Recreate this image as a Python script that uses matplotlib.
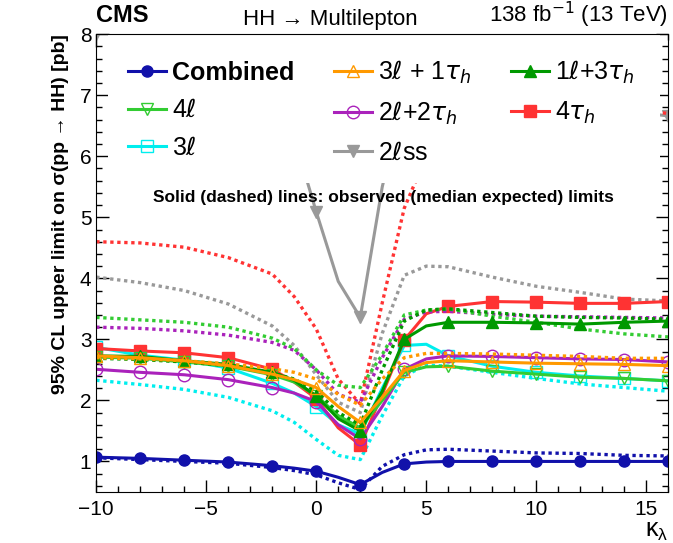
import matplotlib
matplotlib.use("Agg")
import matplotlib.pyplot as plt
from matplotlib.patches import Rectangle
from matplotlib.ticker import MultipleLocator

plt.rcParams['font.family'] = ['Liberation Sans', 'DejaVu Sans']
plt.rcParams['mathtext.fontset'] = 'dejavusans'

# kappa_lambda scan points
kl = [-10, -8, -6, -4, -2, -1, 0, 1, 2, 3, 4, 5, 6, 8, 10, 12, 14, 16]

comb_obs = [1.07, 1.05, 1.02, 0.99, 0.93, 0.89, 0.84, 0.74, 0.62, 0.82, 0.96, 0.99, 1.0, 1.0, 1.0, 1.0, 1.0, 1.0]
comb_exp = [1.06, 1.03, 1.00, 0.97, 0.90, 0.85, 0.78, 0.65, 0.54, 0.92, 1.11, 1.19, 1.20, 1.17, 1.14, 1.13, 1.10, 1.09]

l3t1_obs = [2.73, 2.70, 2.65, 2.57, 2.43, 2.34, 2.21, 1.90, 1.64, 2.05, 2.49, 2.62, 2.65, 2.63, 2.61, 2.60, 2.59, 2.57]
l3t1_exp = [2.70, 2.68, 2.65, 2.60, 2.52, 2.46, 2.35, 2.10, 1.92, 2.35, 2.70, 2.77, 2.77, 2.76, 2.74, 2.72, 2.69, 2.69]

l1t3_obs = [2.73, 2.72, 2.65, 2.59, 2.46, 2.33, 2.07, 1.70, 1.50, 2.15, 3.00, 3.22, 3.28, 3.28, 3.27, 3.25, 3.28, 3.30]
l1t3_exp = [2.69, 2.67, 2.63, 2.57, 2.45, 2.35, 2.15, 1.80, 1.60, 2.50, 3.30, 3.48, 3.50, 3.44, 3.38, 3.36, 3.35, 3.33]

l4_obs = [2.71, 2.69, 2.63, 2.56, 2.42, 2.30, 2.08, 1.75, 1.55, 2.00, 2.46, 2.55, 2.56, 2.48, 2.43, 2.38, 2.36, 2.32]
l4_exp = [3.36, 3.32, 3.28, 3.20, 3.02, 2.85, 2.50, 2.25, 2.21, 2.75, 3.40, 3.48, 3.50, 3.38, 3.28, 3.17, 3.09, 3.04]

l2t2_obs = [2.51, 2.46, 2.42, 2.34, 2.21, 2.12, 1.98, 1.60, 1.37, 1.90, 2.51, 2.68, 2.73, 2.72, 2.70, 2.68, 2.67, 2.63]
l2t2_exp = [3.20, 3.18, 3.14, 3.07, 2.95, 2.82, 2.50, 2.10, 1.97, 2.70, 3.33, 3.45, 3.46, 3.41, 3.38, 3.37, 3.36, 3.35]

t4_obs = [2.85, 2.81, 2.78, 2.70, 2.51, 2.30, 2.03, 1.55, 1.27, 2.10, 2.99, 3.42, 3.54, 3.62, 3.61, 3.59, 3.59, 3.62]
t4_exp = [4.60, 4.58, 4.51, 4.34, 4.07, 3.70, 3.17, 2.35, 1.94, 3.60, 5.15, 6.00, 6.60, 7.00, 7.00, 6.90, 6.80, 6.70]

l3_obs = [2.87, 2.74, 2.66, 2.53, 2.28, 2.12, 1.90, 1.60, 1.45, 2.20, 2.90, 2.92, 2.73, 2.56, 2.46, 2.40, 2.36, 2.32]
l3_exp = [2.33, 2.26, 2.18, 2.05, 1.83, 1.64, 1.36, 1.10, 1.03, 1.75, 2.40, 2.58, 2.56, 2.46, 2.36, 2.27, 2.21, 2.15]

ss_obs = [8.00, 8.70, 8.70, 8.40, 7.40, 6.30, 5.09, 3.95, 3.36, 5.50, 7.00, 7.30, 7.30, 7.10, 6.95, 6.85, 6.75, 6.66]
ss_exp = [4.02, 3.93, 3.80, 3.58, 3.22, 2.90, 2.42, 1.97, 1.80, 3.10, 4.05, 4.20, 4.19, 4.02, 3.87, 3.77, 3.66, 3.63]

mark_idx = [i for i, k in enumerate(kl) if k % 2 == 0]

fig = plt.figure(figsize=(6.73, 5.43), dpi=100)
ax = fig.add_axes([0.143, 0.094, 0.85, 0.843])

series = [
    ('Combined', comb_obs, comb_exp, '#1111aa', 'o', True),
    (r'3$\ell$ + 1$\tau_h$', l3t1_obs, l3t1_exp, '#ff9900', '^', False),
    (r'1$\ell$+3$\tau_h$', l1t3_obs, l1t3_exp, '#009900', '^', True),
    (r'4$\ell$', l4_obs, l4_exp, '#33cc33', 'v', False),
    (r'2$\ell$+2$\tau_h$', l2t2_obs, l2t2_exp, '#aa22bb', 'o', False),
    (r'4$\tau_h$', t4_obs, t4_exp, '#ff3333', 's', True),
    (r'3$\ell$', l3_obs, l3_exp, '#00eeee', 's', False),
    (r'2$\ell$ss', ss_obs, ss_exp, '#999999', 'v', True),
]

handles = {}
for name, obs, exp, col, mk, filled in reversed(series):
    ax.plot(kl, exp, color=col, lw=2.4, linestyle=(0, (1, 1.1)))
    h, = ax.plot(kl, obs, color=col, lw=2.2, marker=mk, markevery=mark_idx,
                 markersize=8 if mk != 'o' or filled else 9,
                 markerfacecolor=col if filled else 'none',
                 markeredgecolor=col, markeredgewidth=1.0)
    handles[name] = h

ax.set_xlim(-10, 16)
ax.set_ylim(0.5, 8)
ax.xaxis.set_major_locator(MultipleLocator(5))
ax.xaxis.set_minor_locator(MultipleLocator(1))
ax.yaxis.set_major_locator(MultipleLocator(1))
ax.yaxis.set_minor_locator(MultipleLocator(0.2))
ax.tick_params(which='both', direction='in', top=True, right=True, labelsize=15)
ax.tick_params(which='major', length=9, width=1)
ax.tick_params(which='minor', length=4.5, width=1)
ax.tick_params(axis='x', pad=6)

# white legend area covering the curves
ax.add_patch(Rectangle((0.02, 0.675), 0.965, 0.325, transform=ax.transAxes,
                       facecolor='white', edgecolor='none', zorder=2.4))

order = ['Combined', r'4$\ell$', r'3$\ell$',
         r'3$\ell$ + 1$\tau_h$', r'2$\ell$+2$\tau_h$', r'2$\ell$ss',
         r'1$\ell$+3$\tau_h$', r'4$\tau_h$']
leg = ax.legend([handles[n] for n in order], order, ncol=3, loc='upper left',
                bbox_to_anchor=(0.025, 0.985), frameon=False, fontsize=18,
                handlelength=1.5, handletextpad=0.25, columnspacing=1.6,
                labelspacing=0.55, numpoints=1, borderpad=0.2)
leg.set_zorder(5)
leg.get_texts()[0].set_fontweight('bold')

ax.text(0.502, 0.644, 'Solid (dashed) lines: observed (median expected) limits',
        transform=ax.transAxes, ha='center', va='center', fontsize=12.5,
        fontweight='bold', zorder=6)

ax.text(0.0, 1.015, 'CMS', transform=ax.transAxes, fontsize=17,
        fontweight='bold', ha='left', va='bottom')
ax.text(0.41, 1.01, 'HH → Multilepton', transform=ax.transAxes, fontsize=16,
        ha='center', va='bottom')
ax.text(1.0, 1.01, r'138 fb$^{-1}$ (13 TeV)', transform=ax.transAxes,
        fontsize=16, ha='right', va='bottom')

ax.set_ylabel('95% CL upper limit on σ(pp → HH) [pb]',
              fontsize=14, fontweight='bold', loc='top', labelpad=8)
ax.set_xlabel(r'$\mathregular{\kappa_\lambda}$', fontsize=18, loc='right', labelpad=0)

fig.savefig('out.png', dpi=100)
